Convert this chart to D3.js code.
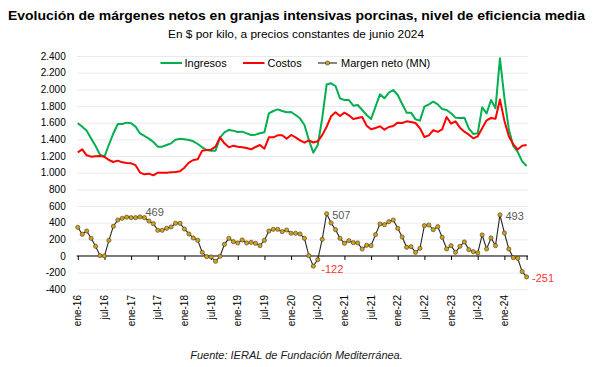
<!DOCTYPE html>
<html lang="es">

<head>
    <meta charset="utf-8">
    <title>Márgenes netos en granjas porcinas</title>
    <style>
        * {
            margin: 0;
            padding: 0;
            box-sizing: border-box;
        }

        body {
            background: #fff;
            font-family: 'Liberation Sans', Arial, sans-serif;
        }

        svg {
            display: block;
        }
    </style>
</head>

<body>
    <div id="chart"></div>
    <script src="https://d3js.org/d3.v7.min.js"></script>

    <script>
        // $ por kilo, ene-16 .. jun-24 (mensual)
        var ingresos = [
            1592, 1552, 1504, 1410, 1320, 1215, 1192, 1335, 1470, 1584, 1584, 1600,
            1592, 1552, 1470, 1440, 1408, 1368, 1312, 1312, 1332, 1352, 1396, 1408,
            1400, 1392, 1376, 1344, 1304, 1272, 1264, 1264, 1420, 1484, 1512, 1504,
            1488, 1492, 1472, 1452, 1456, 1472, 1484, 1712, 1740, 1760, 1740, 1724,
            1728, 1692, 1652, 1572, 1392, 1240, 1332, 1650, 2058, 2072, 2040, 1892,
            1872, 1872, 1804, 1812, 1752, 1692, 1644, 1792, 1940, 1892, 1960, 1992,
            1932, 1824, 1720, 1720, 1640, 1624, 1792, 1820, 1852, 1820, 1764, 1752,
            1712, 1660, 1656, 1660, 1532, 1464, 1472, 1784, 1712, 1872, 1772, 2372,
            1900, 1520, 1320, 1250, 1136, 1080
        ];

        var costos = [
            1244, 1280, 1208, 1192, 1196, 1200, 1190, 1152, 1128, 1144, 1124, 1116,
            1112, 1090, 1001, 980, 988, 968, 1000, 1000, 1000, 1004, 1008, 1016,
            1060, 1120, 1152, 1160, 1264, 1272, 1276, 1312, 1424, 1352, 1304, 1324,
            1312, 1304, 1296, 1280, 1308, 1332, 1288, 1424, 1424, 1448, 1448, 1408,
            1452, 1424, 1388, 1360, 1388, 1362, 1376, 1450, 1551, 1676, 1724, 1680,
            1720, 1688, 1644, 1656, 1668, 1564, 1520, 1536, 1556, 1516, 1548, 1560,
            1600, 1596, 1616, 1608, 1596, 1532, 1428, 1448, 1510, 1490, 1520, 1668,
            1588, 1616, 1540, 1492, 1456, 1412, 1436, 1532, 1628, 1656, 1648, 1879,
            1624, 1436, 1340, 1278, 1324, 1331
        ];

        var margen = [
            344, 260, 300, 212, 116, 4, 0, 188, 356, 432, 452, 466,
            460, 460, 469, 460, 420, 388, 308, 308, 332, 348, 392, 392,
            324, 264, 216, 188, 44, -8, -12, -64, -4, 140, 212, 172,
            156, 192, 156, 164, 152, 124, 188, 300, 320, 320, 292, 312,
            272, 272, 264, 212, 4, -122, -44, 200, 507, 396, 316, 212,
            152, 184, 160, 156, 84, 128, 124, 256, 384, 376, 412, 432,
            332, 228, 104, 112, 44, 92, 364, 372, 316, 352, 224, 84,
            124, 44, 116, 168, 76, 52, 36, 252, 84, 216, 124, 493,
            276, 84, -20, -28, -188, -251
        ];

        var tickLabels = ["ene-16", "jul-16", "ene-17", "jul-17", "ene-18", "jul-18",
            "ene-19", "jul-19", "ene-20", "jul-20", "ene-21", "jul-21", "ene-22",
            "jul-22", "ene-23", "jul-23", "ene-24"];

        var yTicks = [-400, -200, 0, 200, 400, 600, 800, 1000, 1200, 1400,
            1600, 1800, 2000, 2200, 2400];

        // puntos del margen neto que llevan etiqueta
        var etiquetas = [14, 53, 56, 95, 101];

        var width = 593,
            height = 367;

        var left = 76.7,
            right = 528;

        var fmt = d3.formatLocale({
            decimal: ",",
            thousands: ".",
            grouping: [3],
            currency: ["$", ""],
            minus: "-"
        }).format(",d");

        var x = d3.scaleLinear()
            .domain([0, margen.length - 1])
            .range([77.8, 526.6]);

        var y = d3.scaleLinear()
            .domain([-400, 2400])
            .range([289.3, 56]);

        var svg = d3.select("#chart")
            .append("svg")
            .attr("width", width)
            .attr("height", height)
            .style("font-family", "'Liberation Sans', Arial, sans-serif");

        // titulos
        svg.append("text")
            .attr("x", 296.5)
            .attr("y", 20)
            .attr("text-anchor", "middle")
            .attr("textLength", 577)
            .attr("lengthAdjust", "spacingAndGlyphs")
            .style("font-size", "12.5px")
            .style("font-weight", "bold")
            .style("fill", "#000")
            .text("Evolución de márgenes netos en granjas intensivas porcinas, nivel de eficiencia media");

        svg.append("text")
            .attr("x", 296)
            .attr("y", 38)
            .attr("text-anchor", "middle")
            .attr("textLength", 256)
            .attr("lengthAdjust", "spacingAndGlyphs")
            .style("font-size", "11px")
            .style("fill", "#000")
            .text("En $ por kilo, a precios constantes de junio 2024");

        // grilla
        svg.append("g")
            .attr("transform", "translate(" + left + ",0)")
            .call(d3.axisLeft(y).tickValues(yTicks).tickSize(-(right - left)).tickFormat(""))
            .call(function (g) { g.select(".domain").remove(); })
            .selectAll("line")
            .style("stroke", "#e4e4e4")
            .style("stroke-width", "0.8");

        // eje y
        svg.append("g")
            .attr("transform", "translate(" + left + ",0)")
            .call(d3.axisLeft(y).tickValues(yTicks).tickSize(0).tickPadding(11).tickFormat(fmt))
            .call(function (g) { g.select(".domain").remove(); })
            .selectAll("text")
            .style("font-size", "10px")
            .style("font-family", "'Liberation Sans', Arial, sans-serif")
            .style("fill", "#000");

        // eje x en cero
        var xTicks = d3.range(0, margen.length, 6).concat([margen.length - 1]);

        var xAxis = svg.append("g")
            .attr("transform", "translate(0," + y(0) + ")")
            .call(d3.axisBottom(x).tickValues(xTicks).tickSize(4).tickSizeOuter(0).tickFormat(""));

        xAxis.select(".domain")
            .attr("d", "M" + left + ",0H" + right)
            .style("stroke", "#000");
        xAxis.selectAll("line").style("stroke", "#000");

        svg.append("g")
            .selectAll("text")
            .data(tickLabels)
            .enter()
            .append("text")
            .attr("transform", function (d, i) {
                return "translate(" + (x(i * 6) + 3.6) + ",295) rotate(-90)";
            })
            .attr("text-anchor", "end")
            .style("font-size", "10px")
            .style("fill", "#000")
            .text(function (d) { return d; });

        // lineas
        var line = d3.line()
            .x(function (d, i) { return x(i); })
            .y(function (d) { return y(d); });

        svg.append("path")
            .datum(ingresos)
            .attr("d", line)
            .style("fill", "none")
            .style("stroke", "#00b050")
            .style("stroke-width", "2")
            .style("stroke-linejoin", "round");

        svg.append("path")
            .datum(costos)
            .attr("d", line)
            .style("fill", "none")
            .style("stroke", "#ff0000")
            .style("stroke-width", "2")
            .style("stroke-linejoin", "round");

        svg.append("path")
            .datum(margen)
            .attr("d", line)
            .style("fill", "none")
            .style("stroke", "#262626")
            .style("stroke-width", "1.1");

        svg.append("g")
            .selectAll("circle")
            .data(margen)
            .enter()
            .append("circle")
            .attr("cx", function (d, i) { return x(i); })
            .attr("cy", function (d) { return y(d); })
            .attr("r", 2.1)
            .style("fill", "#d4a20c")
            .style("stroke", "#3a3a3a")
            .style("stroke-width", "0.6");

        // etiquetas de datos
        svg.append("g")
            .selectAll("text")
            .data(etiquetas)
            .enter()
            .append("text")
            .attr("x", function (i) { return x(i) + (i == 53 ? 8 : 5.5); })
            .attr("y", function (i) { return y(margen[i]) + (i == 14 ? -4.5 : 1) + (i == 53 ? 2 : 0); })
            .attr("dy", "0.35em")
            .style("font-size", "11px")
            .style("fill", function (i) { return margen[i] < 0 ? "#ff3333" : "#595959"; })
            .text(function (i) { return margen[i]; });

        // leyenda
        var legend = svg.append("g")
            .style("font-size", "11px");

        var items = [
            { name: "Ingresos", color: "#00b050", x1: 160.5, x2: 182, tx: 184.5 },
            { name: "Costos", color: "#ff0000", x1: 243, x2: 264.5, tx: 267.5 },
            { name: "Margen neto (MN)", color: "#262626", x1: 318, x2: 337, tx: 341, dot: true }
        ];

        items.forEach(function (it) {
            legend.append("line")
                .attr("x1", it.x1)
                .attr("x2", it.x2)
                .attr("y1", 63)
                .attr("y2", 63)
                .style("stroke", it.color)
                .style("stroke-width", it.dot ? 1.1 : 2);
            if (it.dot) {
                legend.append("circle")
                    .attr("cx", (it.x1 + it.x2) / 2)
                    .attr("cy", 63)
                    .attr("r", 2.1)
                    .style("fill", "#d4a20c")
                    .style("stroke", "#3a3a3a")
                    .style("stroke-width", "0.6");
            }
            legend.append("text")
                .attr("x", it.tx)
                .attr("y", 63)
                .attr("dy", "0.35em")
                .style("fill", "#000")
                .text(it.name);
        });

        // fuente
        svg.append("text")
            .attr("x", 296.5)
            .attr("y", 359)
            .attr("text-anchor", "middle")
            .style("font-size", "11px")
            .style("font-style", "italic")
            .style("fill", "#1a1a1a")
            .text("Fuente: IERAL de Fundación Mediterránea.");
    </script>
</body>

</html>
